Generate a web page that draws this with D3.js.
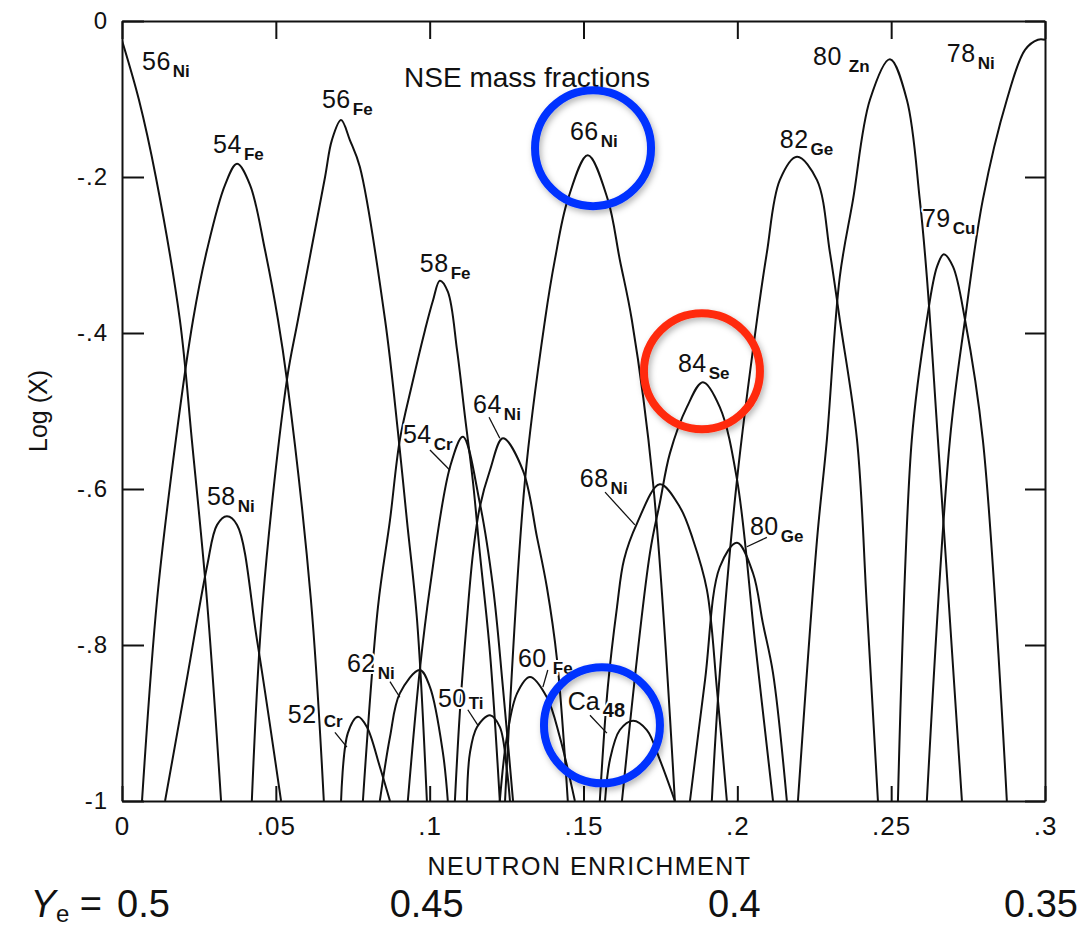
<!DOCTYPE html>
<html lang="en">
<head>
<meta charset="UTF-8">
<title>NSE mass fractions</title>
<script src="https://d3js.org/d3.v7.min.js"></script>
<style>
  body { margin: 0; background: #fff; }
  text { font-family: "Liberation Sans", Arial, sans-serif; fill: #111; }
</style>
</head>
<body>
<svg id="chart"></svg>
<script>
// Axis ticks
const xTicks = [0, 0.05, 0.1, 0.15, 0.2, 0.25, 0.3];
const yTicks = [0, -0.2, -0.4, -0.6, -0.8, -1];
const yeValues = [0.5, 0.45, 0.4, 0.35];

// Curves: [neutron enrichment, log X]
const ni56 = [[0, -0.025], [0.0055, -0.101], [0.011, -0.2], [0.0188, -0.383], [0.0227, -0.537], [0.0276, -0.742], [0.0322, -1]];
const fe54 = [[0.0065, -1], [0.0114, -0.742], [0.0175, -0.537], [0.0231, -0.383], [0.0276, -0.294], [0.0335, -0.21], [0.0374, -0.183], [0.0416, -0.21], [0.0465, -0.294], [0.0507, -0.383], [0.0536, -0.46], [0.0614, -0.742], [0.0656, -1]];
const ni58 = [[0.014, -1], [0.0208, -0.85], [0.0276, -0.7], [0.0309, -0.646], [0.0341, -0.635], [0.0374, -0.646], [0.0439, -0.794], [0.0517, -1]];
const fe56 = [[0.0422, -1], [0.0458, -0.742], [0.0536, -0.46], [0.0572, -0.383], [0.066, -0.2], [0.0682, -0.153], [0.0712, -0.127], [0.0741, -0.153], [0.0773, -0.187], [0.0855, -0.383], [0.0897, -0.527], [0.0926, -0.64], [0.0959, -0.768], [0.0991, -1]];
const fe58 = [[0.0783, -1], [0.0832, -0.751], [0.0871, -0.64], [0.0903, -0.537], [0.0942, -0.467], [0.0985, -0.396], [0.1011, -0.358], [0.1033, -0.333], [0.1059, -0.347], [0.1089, -0.422], [0.1115, -0.508], [0.1141, -0.592], [0.1163, -0.682], [0.1196, -0.81], [0.1228, -1]];
const cr52 = [[0.0712, -1], [0.0734, -0.913], [0.0767, -0.892], [0.0796, -0.905], [0.0838, -0.956], [0.0871, -1]];
const ni62 = [[0.0838, -1], [0.0871, -0.918], [0.0903, -0.862], [0.0968, -0.832], [0.1001, -0.854], [0.1043, -0.938], [0.1059, -1]];
const cr54 = [[0.0929, -1], [0.0968, -0.832], [0.1001, -0.726], [0.1066, -0.572], [0.1108, -0.533], [0.1163, -0.618], [0.1206, -0.726], [0.1238, -0.854], [0.1271, -1]];
const ni64 = [[0.1082, -1], [0.1098, -0.887], [0.1121, -0.768], [0.1141, -0.682], [0.1163, -0.623], [0.1196, -0.576], [0.1238, -0.535], [0.1303, -0.576], [0.1349, -0.662], [0.1381, -0.726], [0.1414, -0.819], [0.1449, -1]];
const ti50 = [[0.1121, -1], [0.1131, -0.938], [0.1154, -0.905], [0.1196, -0.89], [0.1228, -0.905], [0.1251, -0.96], [0.1261, -1]];
const fe60 = [[0.1228, -1], [0.1251, -0.918], [0.1284, -0.862], [0.1326, -0.841], [0.1381, -0.867], [0.1423, -0.918], [0.1472, -1]];
const ni66 = [[0.1245, -1], [0.131, -0.588], [0.1375, -0.383], [0.1407, -0.306], [0.1449, -0.229], [0.1514, -0.172], [0.1579, -0.229], [0.1618, -0.306], [0.1657, -0.383], [0.1726, -0.592], [0.1797, -1]];
const ca48 = [[0.157, -1], [0.1586, -0.947], [0.1618, -0.909], [0.1661, -0.897], [0.1706, -0.909], [0.1748, -0.947], [0.1797, -1]];
const ni68 = [[0.1553, -1], [0.1579, -0.854], [0.1609, -0.751], [0.1632, -0.69], [0.1674, -0.644], [0.1748, -0.594], [0.1813, -0.623], [0.1856, -0.665], [0.1901, -0.729], [0.1934, -0.858], [0.1966, -1]];
const se84 = [[0.1625, -1], [0.1716, -0.682], [0.1748, -0.618], [0.1781, -0.554], [0.1836, -0.495], [0.1888, -0.463], [0.1943, -0.495], [0.1999, -0.588], [0.2057, -0.794], [0.2116, -1]];
const ge80 = [[0.1846, -1], [0.1895, -0.845], [0.1943, -0.7], [0.1999, -0.669], [0.2051, -0.708], [0.2083, -0.772], [0.2116, -0.836], [0.2161, -1]];
const ge82 = [[0.1917, -1], [0.1943, -0.836], [0.1999, -0.588], [0.2064, -0.383], [0.2096, -0.297], [0.2138, -0.204], [0.2194, -0.174], [0.2259, -0.204], [0.2301, -0.297], [0.2333, -0.383], [0.2389, -0.537], [0.2421, -0.751], [0.2457, -1]];
const zn80 = [[0.2197, -1], [0.2259, -0.665], [0.2291, -0.537], [0.2333, -0.328], [0.2376, -0.229], [0.2431, -0.101], [0.2496, -0.049], [0.2551, -0.101], [0.2593, -0.229], [0.2616, -0.328], [0.2652, -0.537], [0.273, -1]];
const cu79 = [[0.2522, -1], [0.2567, -0.537], [0.2616, -0.383], [0.2649, -0.315], [0.2671, -0.299], [0.2701, -0.315], [0.274, -0.383], [0.2798, -0.537], [0.2876, -1]];
const ni78 = [[0.2616, -1], [0.2691, -0.537], [0.274, -0.383], [0.2798, -0.229], [0.2876, -0.101], [0.2935, -0.037], [0.2977, -0.024], [0.3, -0.024]];

const curves = [ni56, fe54, ni58, fe56, fe58, cr52, ni62, cr54, ni64, ti50, fe60,
                ni66, ca48, ni68, se84, ge80, ge82, zn80, cu79, ni78];

// Isotope labels (anchor and optional leader line, in data units)
const labels = [
  { mass: "56", el: "Ni", at: [0.0065, -0.063] },
  { mass: "54", el: "Fe", at: [0.0296, -0.169] },
  { mass: "56", el: "Fe", at: [0.065, -0.112] },
  { mass: "58", el: "Fe", at: [0.0968, -0.322] },
  { mass: "66", el: "Ni", at: [0.1456, -0.153] },
  { mass: "82", el: "Ge", at: [0.2138, -0.163] },
  { mass: "80", el: "Zn", at: [0.2246, -0.056], gap: 7 },
  { mass: "78", el: "Ni", at: [0.2681, -0.053] },
  { mass: "79", el: "Cu", at: [0.26, -0.264] },
  { mass: "84", el: "Se", at: [0.1807, -0.45] },
  { mass: "64", el: "Ni", at: [0.1141, -0.503], lead: [[0.1193, -0.508], [0.1228, -0.535]] },
  { mass: "54", el: "Cr", at: [0.0913, -0.541], lead: [[0.1001, -0.55], [0.1066, -0.576]] },
  { mass: "68", el: "Ni", at: [0.1488, -0.597], lead: [[0.157, -0.604], [0.1667, -0.646]] },
  { mass: "80", el: "Ge", at: [0.2041, -0.659], lead: [[0.2096, -0.662], [0.2031, -0.674]] },
  { mass: "58", el: "Ni", at: [0.0276, -0.621] },
  { mass: "62", el: "Ni", at: [0.0731, -0.835], lead: [[0.0871, -0.847], [0.0903, -0.867]] },
  { mass: "52", el: "Cr", at: [0.0539, -0.9], gap: 7, drop: 4, lead: [[0.0692, -0.912], [0.0731, -0.931]] },
  { mass: "50", el: "Ti", at: [0.1027, -0.879], drop: 2, lead: [[0.1124, -0.883], [0.1157, -0.903]] },
  { mass: "60", el: "Fe", at: [0.1287, -0.828], gap: 6, lead: [[0.1384, -0.832], [0.1368, -0.854]] },
  { mass: "48", el: "Ca", at: [0.1449, -0.883], swap: true, lead: [[0.1521, -0.89], [0.1576, -0.913]] }
];

// Highlight rings (centre in data units)
const rings = [
  { eta: 0.1531, logX: -0.163, color: "#0433ff" },
  { eta: 0.1885, logX: -0.449, color: "#ff2a0d" },
  { eta: 0.156, logX: -0.903, color: "#0433ff" }
];

const width = 1083, height = 928;
const margin = { top: 21, right: 38, bottom: 127, left: 122 };

const svg = d3.select("#chart").attr("width", width).attr("height", height);
svg.append("rect").attr("width", width).attr("height", height).attr("fill", "#fff");

const x = d3.scaleLinear().domain([0, 0.3]).range([margin.left, width - margin.right]);
const y = d3.scaleLinear().domain([-1, 0]).range([height - margin.bottom, margin.top]);

const defs = svg.append("defs");
defs.append("clipPath").attr("id", "plot")
  .append("rect")
  .attr("x", x(0)).attr("y", y(0))
  .attr("width", x(0.3) - x(0)).attr("height", y(-1) - y(0));
const shadow = defs.append("filter").attr("id", "shadow")
  .attr("x", "-20%").attr("y", "-20%").attr("width", "140%").attr("height", "140%");
shadow.append("feDropShadow").attr("dx", 2).attr("dy", 3).attr("stdDeviation", 3)
  .attr("flood-color", "#000").attr("flood-opacity", 0.3);

// "-0.2" -> "-.2", "0.05" -> ".05"
const trim = d => d === 0 ? "0" : String(d).replace("0.", ".");

function styleAxis(g, labelSize) {
  g.attr("font-family", null).attr("font-size", null);
  g.select(".domain").attr("stroke", "#111").attr("stroke-width", 2);
  g.selectAll(".tick line").attr("stroke", "#111").attr("stroke-width", 2);
  g.selectAll(".tick text").attr("font-size", labelSize).attr("fill", "#111");
}

svg.append("g")
  .attr("transform", `translate(0,${y(-1)})`)
  .call(d3.axisBottom(x).tickValues(xTicks).tickSizeInner(-15).tickSizeOuter(0)
    .tickPadding(16).tickFormat(trim))
  .call(g => styleAxis(g, 26))
  .call(g => g.selectAll(".tick text").attr("letter-spacing", 1));

svg.append("g")
  .attr("transform", `translate(0,${y(0)})`)
  .call(d3.axisTop(x).tickValues(xTicks).tickSizeInner(-18).tickSizeOuter(0).tickFormat(""))
  .call(g => styleAxis(g, 0));

svg.append("g")
  .attr("transform", `translate(${x(0)},0)`)
  .call(d3.axisLeft(y).tickValues(yTicks).tickSizeInner(-22).tickSizeOuter(0)
    .tickPadding(14).tickFormat(trim))
  .call(g => styleAxis(g, 24))
  .call(g => g.selectAll(".tick text").attr("letter-spacing", 1));

svg.append("g")
  .attr("transform", `translate(${x(0.3)},0)`)
  .call(d3.axisRight(y).tickValues(yTicks).tickSizeInner(-20).tickSizeOuter(0).tickFormat(""))
  .call(g => styleAxis(g, 0));

// Curves
const line = d3.line()
  .x(d => x(d[0]))
  .y(d => y(d[1]))
  .curve(d3.curveCatmullRom.alpha(0.5));

svg.append("g")
  .attr("clip-path", "url(#plot)")
  .selectAll("path")
  .data(curves)
  .join("path")
  .attr("d", line)
  .attr("fill", "none")
  .attr("stroke", "#111")
  .attr("stroke-width", 2)
  .attr("stroke-linejoin", "round");

// Leader lines
svg.append("g")
  .selectAll("line")
  .data(labels.filter(d => d.lead))
  .join("line")
  .attr("x1", d => x(d.lead[0][0])).attr("y1", d => y(d.lead[0][1]))
  .attr("x2", d => x(d.lead[1][0])).attr("y2", d => y(d.lead[1][1]))
  .attr("stroke", "#111")
  .attr("stroke-width", 1.3);

// Isotope labels, with a white halo that breaks the curves behind them
const lab = svg.append("g")
  .selectAll("text")
  .data(labels)
  .join("text")
  .attr("x", d => x(d.at[0]))
  .attr("y", d => y(d.at[1]))
  .attr("stroke", "#fff")
  .attr("stroke-width", 4)
  .attr("stroke-linejoin", "round")
  .attr("paint-order", "stroke");

lab.each(function(d) {
  const t = d3.select(this);
  const drop = d.drop != null ? d.drop : 7;
  if (d.swap) {
    t.append("tspan").attr("font-size", 25).text(d.el);
    t.append("tspan").attr("font-size", 20).attr("font-weight", "bold")
      .attr("dx", 3).attr("dy", 7).text(d.mass);
  } else {
    t.append("tspan").attr("font-size", 25).attr("letter-spacing", 0.5).text(d.mass);
    t.append("tspan").attr("font-size", 17).attr("font-weight", "bold")
      .attr("dx", d.gap || 2).attr("dy", drop).text(d.el);
  }
});

// Title inside plot
svg.append("text")
  .attr("x", 527).attr("y", 87)
  .attr("text-anchor", "middle")
  .attr("font-size", 28)
  .text("NSE mass fractions");

// Axis titles
svg.append("text")
  .attr("x", x(0.15) + 6).attr("y", 875)
  .attr("text-anchor", "middle")
  .attr("font-size", 25)
  .attr("letter-spacing", 1.5)
  .text("NEUTRON ENRICHMENT");

svg.append("text")
  .attr("transform", `translate(47,${y(-0.5)}) rotate(-90)`)
  .attr("text-anchor", "middle")
  .attr("font-size", 25)
  .text("Log (X)");

// Electron fraction scale: Ye = 0.5 - eta/2
const yeBase = 917;
const ye = svg.append("g").attr("font-size", 38);
ye.append("text")
  .attr("x", 102).attr("y", yeBase)
  .attr("text-anchor", "end")
  .call(t => {
    t.append("tspan").attr("font-style", "italic").text("Y");
    t.append("tspan").attr("font-size", 24).attr("dy", 5).text("e");
    t.append("tspan").attr("dy", -5).text(" =");
  });
ye.selectAll("text.ye")
  .data(yeValues)
  .join("text")
  .attr("class", "ye")
  .attr("y", yeBase)
  .attr("x", (d, i) => {
    const px = x(1 - 2 * d);
    if (i === 0) return px - 5;
    if (i === yeValues.length - 1) return px + 33;
    return px - 3;
  })
  .attr("text-anchor", (d, i) => i === 0 ? "start" : i === yeValues.length - 1 ? "end" : "middle")
  .text(d => String(d));

// Highlight rings
svg.append("g")
  .selectAll("circle")
  .data(rings)
  .join("circle")
  .attr("cx", d => x(d.eta))
  .attr("cy", d => y(d.logX))
  .attr("r", 58)
  .attr("fill", "none")
  .attr("stroke", d => d.color)
  .attr("stroke-width", 8)
  .attr("filter", "url(#shadow)");
</script>
</body>
</html>
